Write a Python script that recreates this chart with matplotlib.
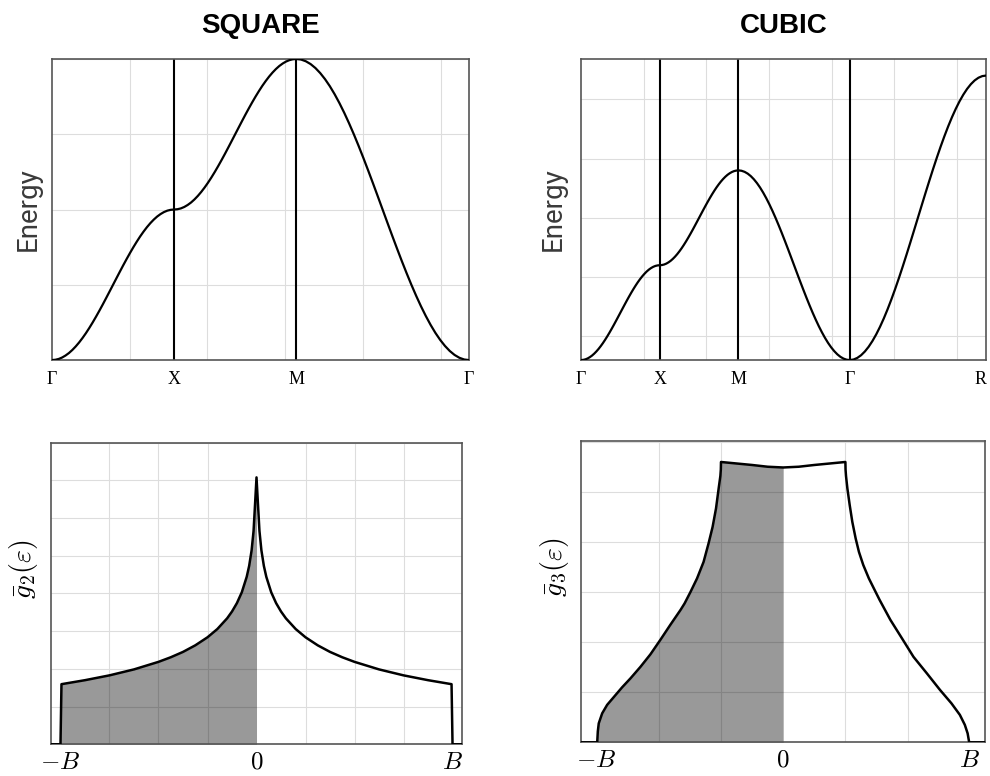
import numpy as np
import matplotlib
matplotlib.use("Agg")
import matplotlib.pyplot as plt
from matplotlib.ticker import MultipleLocator

plt.rcParams['mathtext.fontset'] = 'cm'

# ---------------- data ----------------
# Square lattice band structure (energy, sampled uniformly along each path segment)
sq_labels = ['Γ', 'X', 'M', 'Γ']
sq_seg_len = [np.pi, np.pi, np.pi * np.sqrt(2)]
sq_GX = [-4, -3.992, -3.970, -3.932, -3.879, -3.813, -3.732, -3.638, -3.532, -3.414,
         -3.286, -3.147, -3, -2.845, -2.684, -2.518, -2.347, -2.174, -2, -1.826,
         -1.653, -1.482, -1.316, -1.155, -1, -0.853, -0.714, -0.586, -0.468, -0.362,
         -0.268, -0.187, -0.121, -0.068, -0.030, -0.008, 0]
sq_XM = [0, 0.008, 0.030, 0.068, 0.121, 0.187, 0.268, 0.362, 0.468, 0.586,
         0.714, 0.853, 1, 1.155, 1.316, 1.482, 1.653, 1.826, 2, 2.174,
         2.347, 2.518, 2.684, 2.845, 3, 3.147, 3.286, 3.414, 3.532, 3.638,
         3.732, 3.813, 3.879, 3.932, 3.970, 3.992, 4]
sq_MG = [4, 3.985, 3.939, 3.864, 3.759, 3.625, 3.464, 3.277, 3.064, 2.828,
         2.571, 2.294, 2, 1.690, 1.368, 1.035, 0.695, 0.349, 0, -0.349,
         -0.695, -1.035, -1.368, -1.690, -2, -2.294, -2.571, -2.828, -3.064, -3.277,
         -3.464, -3.625, -3.759, -3.864, -3.939, -3.985, -4]

# Cubic lattice band structure
cu_labels = ['Γ', 'X', 'M', 'Γ', 'R']
cu_seg_len = [np.pi, np.pi, np.pi * np.sqrt(2), np.pi * np.sqrt(3)]
cu_GX = [-6, -5.992, -5.970, -5.932, -5.879, -5.813, -5.732, -5.638, -5.532, -5.414,
         -5.286, -5.147, -5, -4.845, -4.684, -4.518, -4.347, -4.174, -4, -3.826,
         -3.653, -3.482, -3.316, -3.155, -3, -2.853, -2.714, -2.586, -2.468, -2.362,
         -2.268, -2.187, -2.121, -2.068, -2.030, -2.008, -2]
cu_XM = [-2, -1.992, -1.970, -1.932, -1.879, -1.813, -1.732, -1.638, -1.532, -1.414,
         -1.286, -1.147, -1, -0.845, -0.684, -0.518, -0.347, -0.174, 0, 0.174,
         0.347, 0.518, 0.684, 0.845, 1, 1.147, 1.286, 1.414, 1.532, 1.638,
         1.732, 1.813, 1.879, 1.932, 1.970, 1.992, 2]
cu_MG = [2, 1.985, 1.939, 1.864, 1.759, 1.625, 1.464, 1.277, 1.064, 0.828,
         0.571, 0.294, 0, -0.310, -0.632, -0.965, -1.305, -1.651, -2, -2.349,
         -2.695, -3.035, -3.368, -3.690, -4, -4.294, -4.571, -4.828, -5.064, -5.277,
         -5.464, -5.625, -5.759, -5.864, -5.939, -5.985, -6]
cu_GR = [-6, -5.977, -5.909, -5.796, -5.638, -5.438, -5.196, -4.915, -4.596, -4.243,
         -3.857, -3.441, -3, -2.536, -2.052, -1.553, -1.042, -0.523, 0, 0.523,
         1.042, 1.553, 2.052, 2.536, 3, 3.441, 3.857, 4.243, 4.596, 4.915,
         5.196, 5.438, 5.638, 5.796, 5.909, 5.977, 6]

# Square lattice density of states
dos2_E = [-4.2, -4.0, -3.98, -3.5, -3.0, -2.5, -2.0, -1.75, -1.5, -1.25, -1.0,
          -0.8, -0.6, -0.5, -0.4, -0.3, -0.2, -0.15, -0.1, -0.06, -0.03, 0.0,
          0.03, 0.06, 0.1, 0.15, 0.2, 0.3, 0.4, 0.5, 0.6, 0.8,
          1.0, 1.25, 1.5, 1.75, 2.0, 2.5, 3.0, 3.5, 3.98, 4.0, 4.2]
dos2_g = [0, 0, 0.0797, 0.0850, 0.0914, 0.0993, 0.1093, 0.1154, 0.1225, 0.1312, 0.1419,
          0.1528, 0.1670, 0.1761, 0.1872, 0.2016, 0.2221, 0.2366, 0.2572, 0.2830, 0.3181, 0.354,
          0.3181, 0.2830, 0.2572, 0.2366, 0.2221, 0.2016, 0.1872, 0.1761, 0.1670, 0.1528,
          0.1419, 0.1312, 0.1225, 0.1154, 0.1093, 0.0993, 0.0914, 0.0850, 0.0797, 0, 0]

# Cubic lattice density of states (arbitrary units)
dos3_E = [-6.5, -5.98, -5.96, -5.93, -5.82, -5.66, -5.44, -5.18, -4.91, -4.59, -4.27,
          -3.95, -3.63, -3.30, -3.17, -2.98, -2.77, -2.56, -2.40, -2.27, -2.16,
          -2.075, -2.02, -2.005, -2.0, -1.5, -1.0, -0.5, 0.0,
          0.5, 1.0, 1.5, 2.0, 2.005, 2.02, 2.064, 2.138, 2.223, 2.33, 2.436,
          2.574, 2.755, 2.915, 3.1, 3.447, 3.82, 4.19, 4.62, 5.04, 5.41,
          5.68, 5.84, 5.93, 5.98, 6.5]
dos3_g = [0, 0, 0.22, 0.38, 0.58, 0.75, 0.91, 1.10, 1.28, 1.51, 1.76,
          2.05, 2.35, 2.65, 2.78, 3.01, 3.28, 3.61, 3.98, 4.31, 4.68,
          5.08, 5.33, 5.46, 5.61, 5.58, 5.55, 5.515, 5.50,
          5.515, 5.55, 5.58, 5.61, 5.46, 5.33, 5.08, 4.75, 4.41, 4.08, 3.81,
          3.55, 3.28, 3.08, 2.85, 2.45, 2.08, 1.71, 1.38, 1.05, 0.78,
          0.55, 0.35, 0.18, 0, 0]

# ---------------- styling ----------------
SPINE = '#555555'
GRID = '#dddddd'
LABEL_COLOR = '#3a3a3a'

fig = plt.figure(figsize=(9.9, 7.76), dpi=100)

ax_sq = fig.add_axes([0.0525, 0.536, 0.4212, 0.388])
ax_cu = fig.add_axes([0.5869, 0.536, 0.4091, 0.388])
ax_d2 = fig.add_axes([0.0512, 0.0409, 0.4158, 0.3886])
ax_d3 = fig.add_axes([0.5869, 0.0434, 0.4084, 0.3883])


def style(ax):
    for s in ax.spines.values():
        s.set_color(SPINE)
        s.set_linewidth(1.2)
    ax.set_axisbelow(True)
    ax.tick_params(which='both', length=0)
    ax.grid(True, which='minor', color=GRID, linewidth=0.8)
    ax.grid(False, which='major')


def band(ax, segs, seg_len, labels, ylim, xstep, ystep, title, lab_x):
    pos = np.concatenate([[0], np.cumsum(seg_len)])
    for i, e in enumerate(segs):
        x = np.linspace(pos[i], pos[i + 1], len(e))
        ax.plot(x, e, color='black', lw=1.6, solid_capstyle='round',
                solid_joinstyle='round', zorder=3)
    for p in pos[1:-1]:
        ax.axvline(p, color='black', lw=1.5, zorder=2)
    ax.set_xlim(pos[0], pos[-1])
    ax.set_ylim(*ylim)
    ax.set_xticks(pos)
    ax.set_xticklabels(labels, family='Liberation Serif', fontsize=13)
    ax.xaxis.set_minor_locator(MultipleLocator(xstep))
    ax.set_yticks([])
    ax.yaxis.set_minor_locator(MultipleLocator(ystep))
    style(ax)
    ax.tick_params(axis='x', which='major', pad=8)
    ax.set_ylabel('Energy', family=['Roboto', 'DejaVu Sans'], fontweight='normal',
                  fontsize=20, color=LABEL_COLOR)
    ax.yaxis.set_label_coords(lab_x, 0.5)
    ax.set_title(title, family='Liberation Sans', fontweight='bold',
                 fontsize=20, pad=19)
    return ax.get_xticklabels()


band(ax_sq, [sq_GX, sq_XM, sq_MG], sq_seg_len, sq_labels, (-4, 4), 2, 2, 'SQUARE', -0.024)
cu_ticklabels = band(ax_cu, [cu_GX, cu_XM, cu_MG, cu_GR], cu_seg_len, cu_labels,
                     (-6, 6.7), 2.5, 2.5, 'CUBIC', -0.035)
cu_ticklabels[-1].set_horizontalalignment('right')


def dos(ax, E, g, ylim, xstep, ystep, B, ylab):
    E = np.asarray(E)
    g = np.asarray(g)
    ax.plot(E, g, color='black', lw=1.8, solid_joinstyle='round', zorder=3)
    m = E <= 0
    ax.fill_between(E[m], 0, g[m], color='black', alpha=0.4, lw=0, zorder=2)
    ax.set_xlim(E.min(), E.max())
    ax.set_ylim(*ylim)
    ax.set_xticks([-B, 0, B])
    ax.set_xticklabels([r'$-B$', r'$0$', r'$B$'], fontsize=18)
    ax.xaxis.set_minor_locator(MultipleLocator(xstep))
    ax.set_yticks([])
    ax.yaxis.set_minor_locator(MultipleLocator(ystep))
    style(ax)
    ax.tick_params(axis='x', which='major', pad=4)
    ax.set_ylabel(ylab, fontsize=20)
    ax.yaxis.set_label_coords(-0.026, 0.58)


dos(ax_d2, dos2_E, dos2_g, (0, 0.4), 1, 0.05, 4, r'$\bar{g}_2(\varepsilon)$')
dos(ax_d3, dos3_E, dos3_g, (0, 6.03), 2, 1, 6, r'$\bar{g}_3(\varepsilon)$')

fig.savefig('out.png', dpi=100)
